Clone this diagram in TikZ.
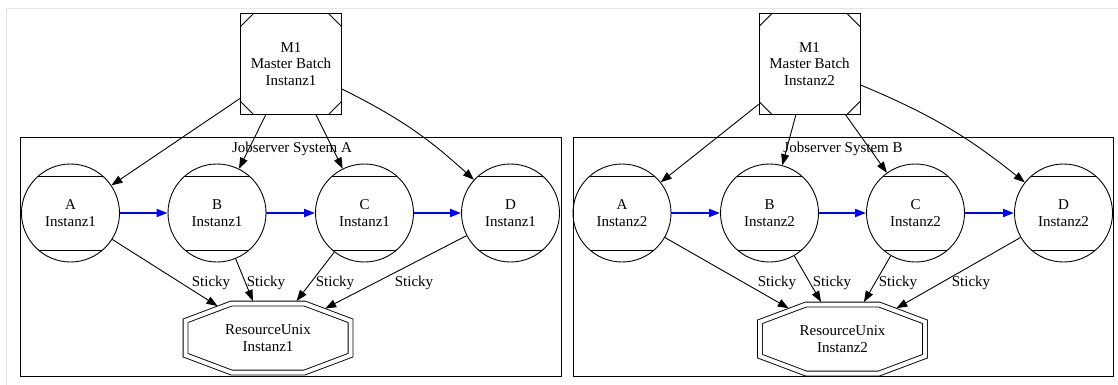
\documentclass[tikz,border=0pt]{standalone}
\usepackage{fontspec}
\setmainfont{Liberation Serif}
\usetikzlibrary{arrows.meta,shapes.misc,calc}
\tikzset{
  every node/.style={font=\fontsize{15}{16.5}\selectfont, align=center},
  batch/.style={draw, rectangle, line width=0.9pt, minimum width=101pt, minimum height=101pt, inner sep=0pt,
    path picture={
      \draw[line width=0.9pt] ($(path picture bounding box.north west)+(13pt,0pt)$) -- ++(-13pt,-13pt);
      \draw[line width=0.9pt] ($(path picture bounding box.north east)+(-13pt,0pt)$) -- ++(13pt,-13pt);
      \draw[line width=0.9pt] ($(path picture bounding box.south west)+(13pt,0pt)$) -- ++(-13pt,13pt);
      \draw[line width=0.9pt] ($(path picture bounding box.south east)+(-13pt,0pt)$) -- ++(13pt,13pt);
    }},
  job/.style={draw, circle, line width=0.9pt, minimum size=98pt, inner sep=0pt,
    path picture={
      \draw[line width=0.9pt] ($(path picture bounding box.center)+(-60pt,37pt)$) -- ++(120pt,0pt);
      \draw[line width=0.9pt] ($(path picture bounding box.center)+(-60pt,-37pt)$) -- ++(120pt,0pt);
    }},
  resource/.style={draw, chamfered rectangle, chamfered rectangle angle=69.4, chamfered rectangle ysep=27pt,
    minimum width=165pt, minimum height=69pt, inner sep=0pt, line width=0.9pt,
    double, double distance=4pt, outer sep=2.5pt},
  cluster/.style={draw, rectangle, line width=0.9pt, inner sep=0pt},
  lbl/.style={inner sep=1pt},
  flow/.style={-{Triangle[length=11pt,width=8pt]}, line width=0.9pt},
  chain/.style={-{Triangle[length=11pt,width=8pt]}, line width=1.8pt, blue},
}
\begin{document}
\begin{tikzpicture}[x=1pt,y=-1pt]
  \useasboundingbox (0,0) rectangle (1118,385);
  \draw[black!10] (6,385) -- (6,8) -- (1118,8);

  \node[cluster, minimum width=541pt, minimum height=239pt] (sysA) at (290.5,256.5) {};
  \node[lbl] (sysAlbl) at (292,149) {Jobserver System A};
  \node[batch] (m1A) at (291,64) {M1\\Master Batch\\Instanz1};
  \node[job] (aA) at (70.5,213) {A\\Instanz1};
  \node[job] (bA) at (217,213) {B\\Instanz1};
  \node[job] (cA) at (364.5,213) {C\\Instanz1};
  \node[job] (dA) at (510.5,213) {D\\Instanz1};
  \node[resource] (rA) at (268,338) {ResourceUnix\\Instanz1};
  \draw[flow] (m1A) -- (aA);
  \draw[flow] (m1A) -- (bA);
  \draw[flow] (m1A) -- (cA);
  \draw[flow] (m1A) to[bend left=8] (dA);
  \draw[chain] (aA) -- (bA);
  \draw[chain] (bA) -- (cA);
  \draw[chain] (cA) -- (dA);
  \draw[flow] (aA) -- (rA);
  \draw[flow] (bA) -- (rA);
  \draw[flow] (cA) -- (rA);
  \draw[flow] (dA) -- (rA);
  \node[lbl] (stA1) at (211,283) {Sticky};
  \node[lbl] (stA2) at (266,283) {Sticky};
  \node[lbl] (stA3) at (335,283) {Sticky};
  \node[lbl] (stA4) at (414,283) {Sticky};

  \node[cluster, minimum width=540pt, minimum height=239pt] (sysB) at (843,256.5) {};
  \node[lbl] (sysBlbl) at (843,149) {Jobserver System B};
  \node[batch] (m1B) at (809.5,64) {M1\\Master Batch\\Instanz2};
  \node[job] (aB) at (622,213) {A\\Instanz2};
  \node[job] (bB) at (769.5,213) {B\\Instanz2};
  \node[job] (cB) at (915.5,213) {C\\Instanz2};
  \node[job] (dB) at (1063.5,213) {D\\Instanz2};
  \node[resource] (rB) at (842.5,339) {ResourceUnix\\Instanz2};
  \draw[flow] (m1B) -- (aB);
  \draw[flow] (m1B) -- (bB);
  \draw[flow] (m1B) -- (cB);
  \draw[flow] (m1B) to[bend left=8] (dB);
  \draw[chain] (aB) -- (bB);
  \draw[chain] (bB) -- (cB);
  \draw[chain] (cB) -- (dB);
  \draw[flow] (aB) -- (rB);
  \draw[flow] (bB) -- (rB);
  \draw[flow] (cB) -- (rB);
  \draw[flow] (dB) -- (rB);
  \node[lbl] (stB1) at (777,283) {Sticky};
  \node[lbl] (stB2) at (832,283) {Sticky};
  \node[lbl] (stB3) at (898,283) {Sticky};
  \node[lbl] (stB4) at (971,283) {Sticky};
\end{tikzpicture}
\end{document}
